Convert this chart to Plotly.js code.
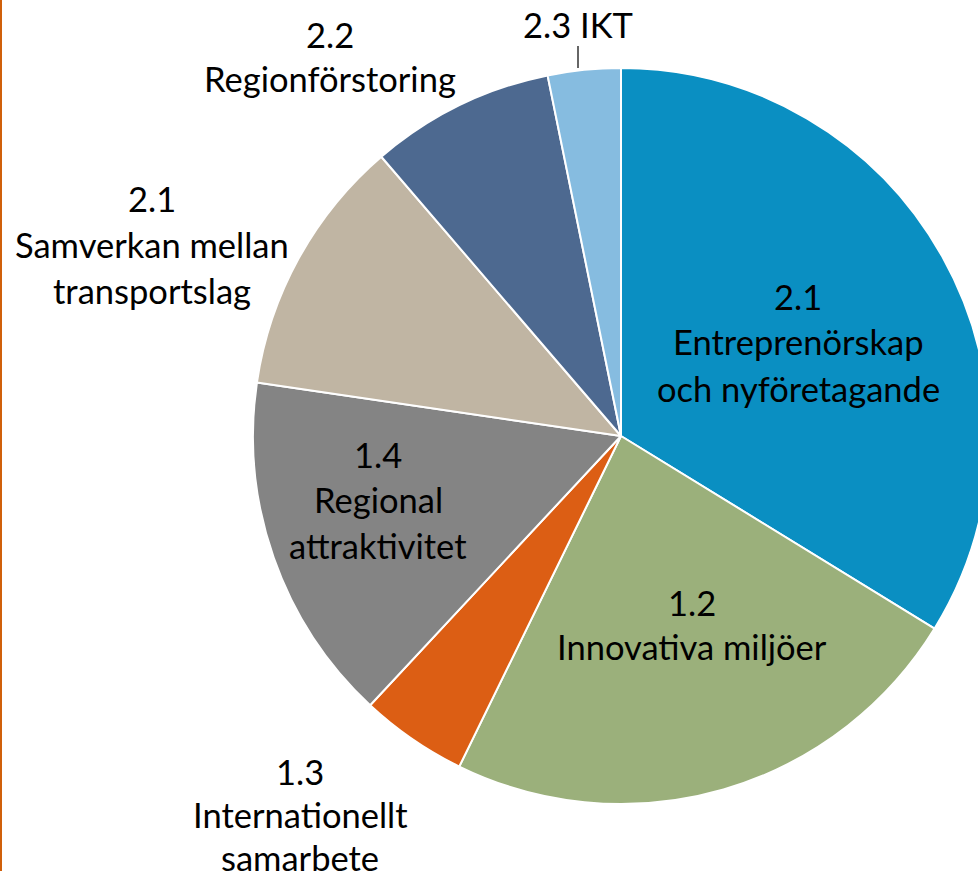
<!DOCTYPE html>
<html>
<head>
<meta charset="utf-8">
<script src="https://cdn.plot.ly/plotly-3.0.1.min.js"></script>
<style>
html,body{margin:0;padding:0;overflow:hidden;background:#fff;width:978px;height:871px;}
#chart{width:1000px;height:871px;}
</style>
</head>
<body>
<div id="chart"></div>
<script>
// Data
const categories = [
  "2.1 Entreprenörskap och nyföretagande",
  "1.2 Innovativa miljöer",
  "1.3 Internationellt samarbete",
  "1.4 Regional attraktivitet",
  "2.1 Samverkan mellan transportslag",
  "2.2 Regionförstoring",
  "2.3 IKT"
];
const values = [33.8, 23.5, 4.7, 15.4, 11.4, 8.1, 3.2];
const colors = ["#0a8fc2", "#9bb07b", "#dc5e14", "#848484", "#c0b5a3", "#4d6990", "#86bce0"];
const labelLines = [
  ["2.1", "Entreprenörskap", "och nyföretagande"],
  ["1.2", "Innovativa miljöer"],
  ["1.3", "Internationellt", "samarbete"],
  ["1.4", "Regional", "attraktivitet"],
  ["2.1", "Samverkan mellan", "transportslag"],
  ["2.2", "Regionförstoring"],
  ["2.3 IKT"]
];
// label anchor positions (pixel centres of first line) and line spacing
const labelPos = [[798, 296], [692, 602], [300, 771], [378, 455], [152, 198], [330, 34], [578, 24]];
const lineGap = [46, 44, 43, 45, 46, 44, 0];

const W = 1000, H = 871;
const annotations = [];
labelLines.forEach((lines, i) => {
  lines.forEach((t, j) => {
    annotations.push({
      text: t, xref: "paper", yref: "paper",
      x: labelPos[i][0] / W, y: 1 - (labelPos[i][1] + j * lineGap[i]) / H,
      xanchor: "center", yanchor: "middle", showarrow: false,
      font: {family: "Lato, 'Open Sans', sans-serif", size: 34.5, color: "#000"}
    });
  });
});

const cx = 621, cy = 436, R = 368;
const data = [{
  type: "pie",
  labels: categories,
  values: values,
  sort: false,
  direction: "clockwise",
  rotation: 0,
  textinfo: "none",
  hoverinfo: "label+percent",
  marker: {colors: colors, line: {color: "#ffffff", width: 2}},
  domain: {x: [(cx - R) / W, (cx + R) / W], y: [(H - cy - R) / H, (H - cy + R) / H]}
}];

const layout = {
  width: W, height: H,
  margin: {l: 0, r: 0, t: 0, b: 0},
  paper_bgcolor: "#ffffff",
  showlegend: false,
  annotations: annotations,
  shapes: [
    {type: "line", xref: "paper", yref: "paper", x0: 0.001, x1: 0.001, y0: 0, y1: 1,
     line: {color: "#d0600a", width: 2}},
    {type: "line", xref: "paper", yref: "paper", x0: 578 / W, x1: 578 / W, y0: 1 - 46 / H, y1: 1 - 68 / H,
     line: {color: "#333333", width: 1.5}}
  ]
};

Plotly.newPlot("chart", data, layout, {staticPlot: true});
</script>
</body>
</html>
